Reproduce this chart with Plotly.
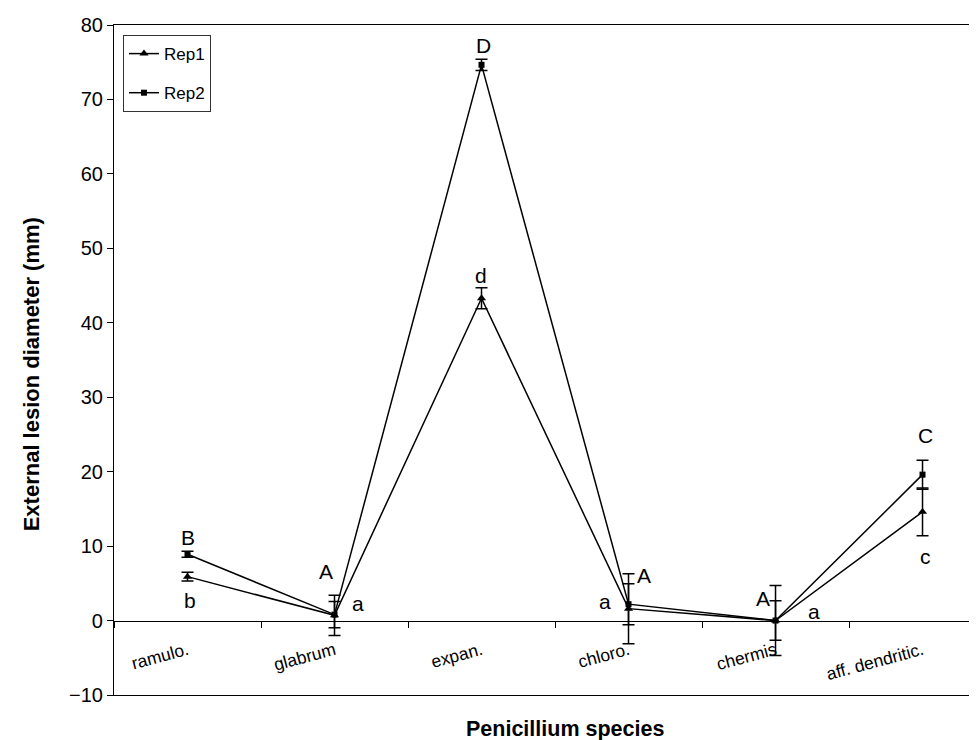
import plotly.graph_objects as go

# ---- data ----
categories = ["ramulo.", "glabrum", "expan.", "chloro.", "chermis", "aff. dendritic."]
rep1 = [5.9, 0.7, 43.3, 1.6, 0.0, 14.6]
rep1_err = [0.6, 2.7, 1.4, 4.7, 4.7, 3.2]
rep2 = [8.9, 0.8, 74.65, 2.2, 0.0, 19.6]
rep2_err = [0.4, 1.75, 0.75, 2.75, 2.65, 1.95]
rep1_letters = ["b", "a", "d", "a", "a", "c"]
rep2_letters = ["B", "A", "D", "A", "A", "C"]

FONT = "Liberation Sans, Arial, sans-serif"

# label placement (y in data units, x shift in px) -- layout only
rep2_lab_y = [11.2, 6.6, 77.3, 6.1, 3.0, 24.8]
rep2_lab_dx = [0, -9, 2, 15, -13, 3]
rep1_lab_y = [2.7, 2.3, 46.3, 2.6, 1.2, 8.6]
rep1_lab_dx = [2, 23, -1, -24, 38, 3]

xi = list(range(len(categories)))

fig = go.Figure()
fig.add_trace(go.Scatter(
    x=xi, y=rep1, name="Rep1", mode="lines+markers", legendgroup="g1",
    line=dict(color="black", width=1.5),
    marker=dict(symbol="triangle-up", size=8, color="black"),
    error_y=dict(type="data", array=rep1_err, color="black", thickness=1.5, width=6),
))
fig.add_trace(go.Scatter(
    x=xi, y=rep2, name="Rep2", mode="lines+markers", legendgroup="g2",
    line=dict(color="black", width=1.5),
    marker=dict(symbol="square", size=6, color="black"),
    error_y=dict(type="data", array=rep2_err, color="black", thickness=1.5, width=6),
))

ann = []
for i in xi:
    ann.append(dict(x=i, y=rep2_lab_y[i], text=rep2_letters[i], showarrow=False,
                    xshift=rep2_lab_dx[i], font=dict(family=FONT, size=21, color="black")))
    ann.append(dict(x=i, y=rep1_lab_y[i], text=rep1_letters[i], showarrow=False,
                    xshift=rep1_lab_dx[i], font=dict(family=FONT, size=21, color="black")))

# axis titles
ann.append(dict(xref="paper", yref="paper", x=0.518, y=-0.051, text="<b>Penicillium species</b>",
                showarrow=False, xanchor="center", yanchor="middle",
                font=dict(family=FONT, size=21.5, color="black")))
ann.append(dict(xref="paper", yref="paper", x=-0.095, y=0.479, text="<b>External lesion diameter (mm)</b>",
                showarrow=False, xanchor="center", yanchor="middle", textangle=-90,
                font=dict(family=FONT, size=22, color="black")))

xr = [-0.5, 5.425]
fig.update_layout(
    width=977, height=740,
    margin=dict(l=106, r=0, t=17, b=53),
    paper_bgcolor="white", plot_bgcolor="white",
    font=dict(family=FONT, color="black"),
    showlegend=True,
    legend=dict(x=0.0103, y=0.985, xanchor="left", yanchor="top",
                bordercolor="#333333", borderwidth=1, bgcolor="white",
                font=dict(family=FONT, size=17), tracegroupgap=14,
                itemwidth=30),
    xaxis=dict(
        type="linear", range=xr, anchor="free", position=1/9,
        tickvals=xi, ticktext=categories, tickangle=-15,
        ticks="", showline=True, linecolor="black", linewidth=1.2,
        showgrid=False, zeroline=False,
        tickfont=dict(family=FONT, size=17.5), ticklabelstandoff=12,
        minor=dict(tickvals=[k + 0.5 for k in range(-1, 6)], ticks="outside",
                   ticklen=6, tickcolor="black", tickwidth=1),
    ),
    xaxis2=dict(
        type="linear", range=xr, overlaying="x", anchor="y", side="bottom",
        showline=True, mirror=True, linecolor="black", linewidth=1.2,
        showticklabels=False, ticks="", showgrid=False, zeroline=False,
    ),
    yaxis=dict(
        range=[-10, 80], dtick=10, ticks="outside", ticklen=6, tickcolor="black",
        showline=True, linecolor="black", linewidth=1.2, showgrid=False,
        zeroline=False, tickfont=dict(family=FONT, size=20),
    ),
    annotations=ann,
)
fig.add_trace(go.Scatter(x=[None], y=[None], xaxis="x2", showlegend=False, hoverinfo="skip"))

fig.write_html("out.html")
